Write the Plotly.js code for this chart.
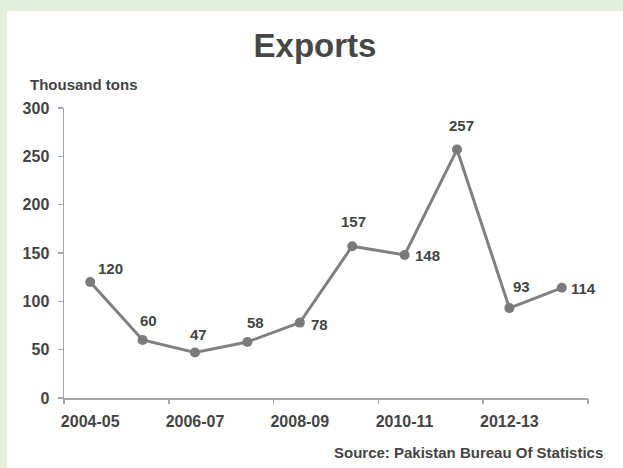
<!DOCTYPE html>
<html>
<head>
<meta charset="utf-8">
<script src="https://cdn.plot.ly/plotly-3.0.1.min.js"></script>
<style>
  html, body { margin: 0; padding: 0; background: #e2efda; width: 623px; height: 468px; overflow: hidden; }
  #chart { position: absolute; left: 7px; top: 11px; width: 616px; height: 457px; background: #ffffff; }
</style>
</head>
<body>
<div id="chart"></div>
<script>
// ---- data ----
const seasons = ['2004-05','2005-06','2006-07','2007-08','2008-09','2009-10','2010-11','2011-12','2012-13','2013-14'];
const exportsThousandTons = [120, 60, 47, 58, 78, 157, 148, 257, 93, 114];
const xTickLabels = ['2004-05','2006-07','2008-09','2010-11','2012-13'];
const yTickValues = [0, 50, 100, 150, 200, 250, 300];

// ---- label placement (style, pixels) ----
const labelShiftX = [20, 6, 3, 8, 20, 1, 23, 4, 12, 22];
const labelShiftY = [-14, -20, -18, -19, 2, -25, 1, -24, -22, 1];

const txt = '#444444';
const fam = 'Liberation Sans, Arial, sans-serif';

const xIdx = seasons.map((_, i) => i);
const boundaries = [];
for (let i = 0; i <= seasons.length; i += 2) boundaries.push(i - 0.5);
if (boundaries[boundaries.length - 1] !== seasons.length - 0.5) boundaries.push(seasons.length - 0.5);

const trace = {
  x: xIdx,
  y: exportsThousandTons,
  type: 'scatter',
  mode: 'lines+markers',
  line: { color: '#808080', width: 3 },
  marker: { color: '#7a7a7a', size: 10 },
  hoverinfo: 'skip',
  showlegend: false
};

const tickTrace = {
  x: [xIdx[0]], y: [0], xaxis: 'x2', yaxis: 'y',
  type: 'scatter', mode: 'markers', marker: { opacity: 0 },
  hoverinfo: 'skip', showlegend: false
};

const annotations = exportsThousandTons.map((v, i) => ({
  x: xIdx[i], y: v, xref: 'x', yref: 'y',
  text: String(v), showarrow: false,
  xanchor: 'center', yanchor: 'middle',
  xshift: labelShiftX[i], yshift: -labelShiftY[i],
  font: { family: fam, size: 15, color: txt, weight: 'bold' }
}));

annotations.push({
  xref: 'paper', yref: 'paper', x: 0, y: 1,
  xanchor: 'left', yanchor: 'middle', xshift: -36, yshift: 24,
  text: 'Thousand tons', showarrow: false,
  font: { family: fam, size: 15, color: txt, weight: 'bold' }
});
annotations.push({
  xref: 'paper', yref: 'paper', x: 1, y: 0,
  xanchor: 'right', yanchor: 'middle', xshift: 17, yshift: -54,
  text: 'Source: Pakistan Bureau Of Statistics', showarrow: false,
  font: { family: fam, size: 15, color: txt, weight: 'bold' }
});

const layout = {
  width: 616, height: 457,
  margin: { l: 57, r: 35, t: 97, b: 70 },
  paper_bgcolor: '#ffffff', plot_bgcolor: '#ffffff',
  title: {
    text: 'Exports',
    font: { family: fam, size: 33, color: '#474747', weight: 'bold' },
    x: 0.5, xref: 'container', xanchor: 'center',
    y: 1 - 34 / 457, yref: 'container', yanchor: 'middle'
  },
  xaxis: {
    range: [-0.5, seasons.length - 0.5],
    tickmode: 'array',
    tickvals: xTickLabels.map(l => seasons.indexOf(l)),
    ticktext: xTickLabels,
    ticks: '', showgrid: false, zeroline: false,
    showline: true, linecolor: '#a6a6a6', linewidth: 1.5,
    ticklabelstandoff: 8,
    tickfont: { family: fam, size: 16, color: txt, weight: 'bold' },
    fixedrange: true
  },
  xaxis2: {
    overlaying: 'x', anchor: 'y', side: 'bottom',
    range: [-0.5, seasons.length - 0.5],
    tickmode: 'array', tickvals: boundaries,
    ticks: 'outside', ticklen: 5, tickwidth: 1.5, tickcolor: '#a6a6a6',
    showticklabels: false, showgrid: false, zeroline: false, showline: false,
    fixedrange: true
  },
  yaxis: {
    range: [0, 300],
    tickmode: 'array', tickvals: yTickValues,
    ticks: 'outside', ticklen: 5, tickwidth: 1.5, tickcolor: '#a6a6a6',
    showgrid: false, zeroline: false,
    showline: true, linecolor: '#a6a6a6', linewidth: 1.5,
    ticklabelstandoff: 5,
    tickfont: { family: fam, size: 16, color: txt, weight: 'bold' },
    fixedrange: true
  },
  annotations: annotations
};

Plotly.newPlot('chart', [trace, tickTrace], layout, { displayModeBar: false, staticPlot: true });
</script>
</body>
</html>
